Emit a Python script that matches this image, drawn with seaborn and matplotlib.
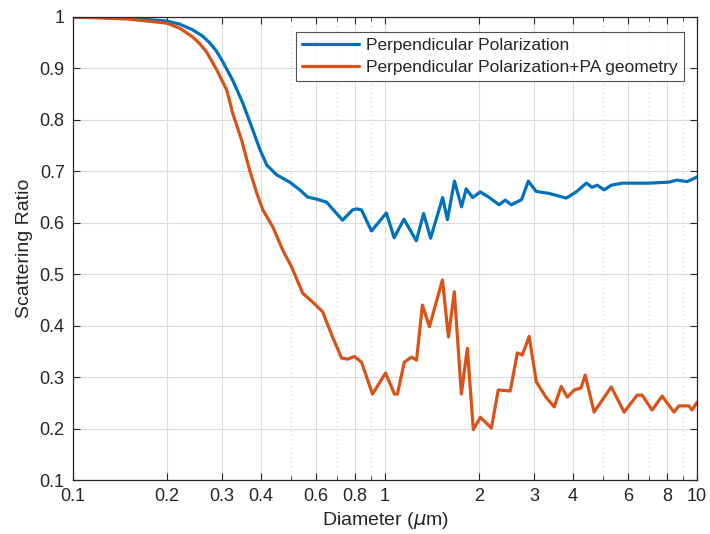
import matplotlib
matplotlib.use("Agg")
import matplotlib.pyplot as plt
import seaborn as sns
import pandas as pd

# =========================
# DATA
# =========================

perp_d = [0.1, 0.15, 0.2, 0.22, 0.242, 0.26, 0.274, 0.288, 0.302, 0.325,
          0.35, 0.374, 0.397, 0.418, 0.45, 0.495, 0.533, 0.565, 0.604, 0.65,
          0.731, 0.787, 0.811, 0.841, 0.905, 1.01, 1.07, 1.15, 1.26, 1.33,
          1.40, 1.53, 1.585, 1.67, 1.76, 1.82, 1.91, 2.02, 2.16, 2.32,
          2.43, 2.54, 2.74, 2.88, 3.05, 3.36, 3.81, 4.10, 4.42, 4.61,
          4.79, 5.04, 5.31, 5.75, 7.02, 8.13, 8.63, 9.29, 10.0]
perp_r = [1.0, 0.998, 0.992, 0.986, 0.975, 0.963, 0.95, 0.934, 0.913, 0.877,
          0.833, 0.786, 0.743, 0.712, 0.693, 0.679, 0.664, 0.65, 0.646, 0.640,
          0.605, 0.625, 0.627, 0.625, 0.584, 0.619, 0.571, 0.607, 0.565, 0.618,
          0.570, 0.649, 0.606, 0.681, 0.631, 0.666, 0.649, 0.66, 0.649, 0.635,
          0.644, 0.635, 0.645, 0.681, 0.661, 0.657, 0.648, 0.66, 0.677, 0.669,
          0.673, 0.664, 0.673, 0.677, 0.677, 0.679, 0.683, 0.680, 0.689]

pa_d = [0.1, 0.15, 0.2, 0.22, 0.242, 0.255, 0.268, 0.289, 0.311, 0.325,
        0.347, 0.368, 0.388, 0.406, 0.437, 0.47, 0.502, 0.545, 0.586, 0.631,
        0.679, 0.726, 0.759, 0.798, 0.841, 0.912, 1.004, 1.072, 1.096, 1.153,
        1.216, 1.262, 1.318, 1.388, 1.528, 1.597, 1.668, 1.757, 1.836, 1.919,
        2.022, 2.193, 2.307, 2.52, 2.655, 2.755, 2.898, 3.054, 3.288, 3.487,
        3.67, 3.84, 4.04, 4.25, 4.38, 4.68, 5.31, 5.84, 6.43, 6.67,
        7.18, 7.73, 8.44, 8.75, 9.42, 9.64, 10.0]
pa_r = [1.0, 0.996, 0.988, 0.978, 0.961, 0.948, 0.932, 0.897, 0.858, 0.813,
        0.761, 0.703, 0.658, 0.625, 0.592, 0.547, 0.514, 0.463, 0.446, 0.427,
        0.378, 0.337, 0.335, 0.340, 0.329, 0.267, 0.308, 0.267, 0.267, 0.329,
        0.339, 0.333, 0.44, 0.398, 0.489, 0.378, 0.466, 0.267, 0.356, 0.198,
        0.222, 0.201, 0.275, 0.273, 0.347, 0.343, 0.379, 0.291, 0.26, 0.242,
        0.282, 0.261, 0.275, 0.279, 0.304, 0.232, 0.281, 0.232, 0.265, 0.265,
        0.236, 0.263, 0.232, 0.244, 0.244, 0.236, 0.251]

labels = ["Perpendicular Polarization", "Perpendicular Polarization+PA geometry"]
x_major = [0.1, 0.2, 0.3, 0.4, 0.6, 0.8, 1, 2, 3, 4, 6, 8, 10]
x_major_labels = ["0.1", "0.2", "0.3", "0.4", "0.6", "0.8", "1", "2", "3", "4", "6", "8", "10"]
x_minor = [0.5, 0.7, 0.9, 5, 7, 9]
y_ticks = [0.1, 0.2, 0.3, 0.4, 0.5, 0.6, 0.7, 0.8, 0.9, 1.0]
y_labels = ["0.1", "0.2", "0.3", "0.4", "0.5", "0.6", "0.7", "0.8", "0.9", "1"]

# =========================
# PLOT
# =========================

sns.set_style("ticks")
plt.rcParams["font.family"] = ["Liberation Sans", "DejaVu Sans"]
plt.rcParams["mathtext.fontset"] = "dejavusans"

fig = plt.figure(figsize=(7.1, 5.34), dpi=100)
ax = fig.add_axes([0.1028, 0.1011, 0.8789, 0.8671])

df1 = pd.DataFrame({"d": perp_d, "r": perp_r})
df2 = pd.DataFrame({"d": pa_d, "r": pa_r})

sns.lineplot(data=df1, x="d", y="r", ax=ax, color="#0072BD", lw=2.3, label=labels[0])
sns.lineplot(data=df2, x="d", y="r", ax=ax, color="#D95319", lw=2.3, label=labels[1])

ax.set_xscale("log")
ax.set_xlim(0.1, 10)
ax.set_ylim(0.1, 1.0)

ax.set_xticks(x_major)
ax.set_xticklabels(x_major_labels)
ax.set_xticks(x_minor, minor=True)
ax.set_xticklabels([], minor=True)
ax.set_yticks(y_ticks)
ax.set_yticklabels(y_labels)

ax.grid(True, which="major", color="#dcdcdc", lw=0.8)
ax.grid(True, which="minor", axis="x", color="#cfcfcf", lw=0.8, ls=(0, (1, 3)))
ax.set_axisbelow(True)

ax.tick_params(which="major", direction="in", top=True, right=True,
               length=5, width=0.8, labelsize=13, colors="#262626", pad=6)
ax.tick_params(which="minor", direction="in", top=True, right=True,
               length=3, width=0.6)
for s in ax.spines.values():
    s.set_linewidth(0.9)
    s.set_color("#262626")

ax.set_xlabel("Diameter ($\\mu$m)", fontsize=14, color="#262626", labelpad=3)
ax.set_ylabel("Scattering Ratio", fontsize=14, color="#262626", labelpad=5)

leg = ax.legend(loc="upper right", bbox_to_anchor=(0.979, 0.9676), borderaxespad=0,
                fontsize=12.5, frameon=True, fancybox=False, handlelength=3.3,
                borderpad=0.35, labelspacing=0.4, handletextpad=0.4)
leg.get_frame().set_edgecolor("#262626")
leg.get_frame().set_linewidth(0.8)

plt.savefig("out.png", dpi=100)
